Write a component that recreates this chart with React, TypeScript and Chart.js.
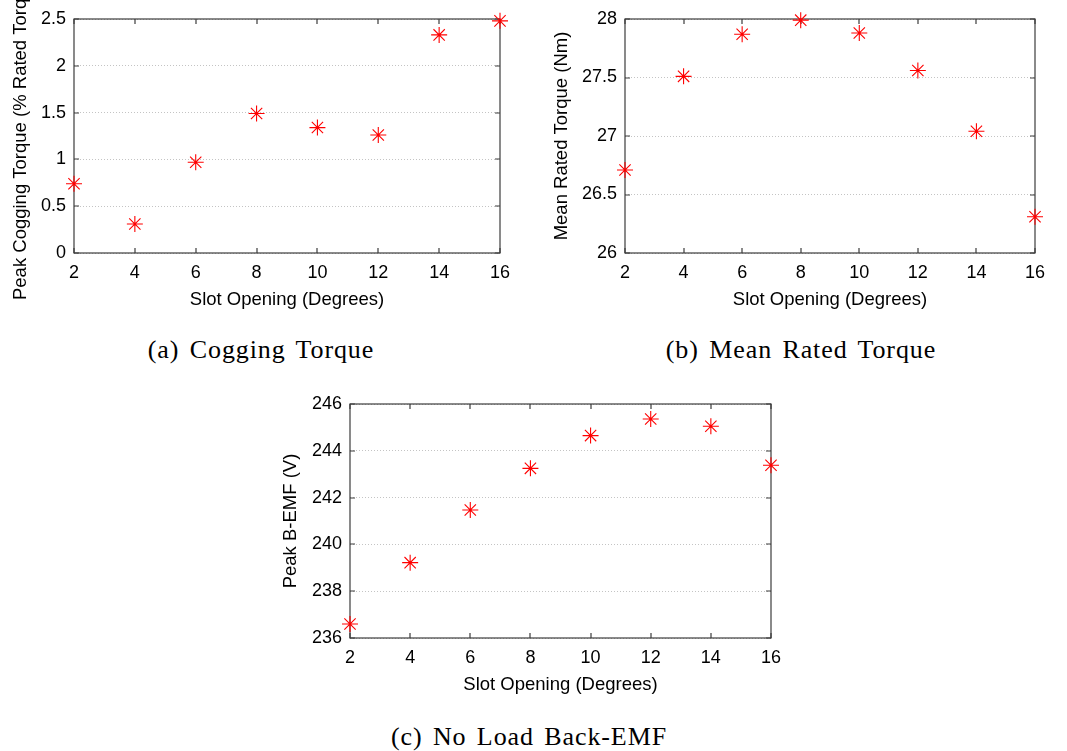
import React, { useEffect, useRef } from "react";
import { Chart, registerables } from "chart.js";

Chart.register(...registerables);

// ---- data ----
const slotOpening = [2, 4, 6, 8, 10, 12, 14, 16];
const coggingTorque = [0.74, 0.31, 0.97, 1.49, 1.34, 1.26, 2.33, 2.48];
const meanRatedTorque = [26.71, 27.51, 27.87, 27.99, 27.88, 27.56, 27.04, 26.31];
const peakBackEmf = [236.6, 239.22, 241.47, 243.25, 244.65, 245.36, 245.05, 243.38];

const xTicks = [2, 4, 6, 8, 10, 12, 14, 16];
const yTicksA = [0, 0.5, 1, 1.5, 2, 2.5];
const yTicksB = [26, 26.5, 27, 27.5, 28];
const yTicksC = [236, 238, 240, 242, 244, 246];

const xTitle = "Slot Opening (Degrees)";
const yTitleA = "Peak Cogging Torque (% Rated Torque)";
const yTitleB = "Mean Rated Torque (Nm)";
const yTitleC = "Peak B-EMF (V)";

const captionA = "(a) Cogging Torque";
const captionB = "(b) Mean Rated Torque";
const captionC = "(c) No Load Back-EMF";

const SANS = '"Liberation Sans", Arial, Helvetica, sans-serif';

const framePlugin = {
  id: "frame",
  beforeDatasetsDraw(chart: any) {
    const { ctx, chartArea } = chart;
    const { left, right, top, bottom } = chartArea;
    const xs = chart.scales.x;
    const ys = chart.scales.y;
    ctx.save();
    ctx.strokeStyle = "#3c3c3c";
    ctx.lineWidth = 1.2;
    ctx.strokeRect(left, top, right - left, bottom - top);
    const tl = 5;
    ctx.beginPath();
    xs.ticks.forEach((t: any) => {
      const px = Math.round(xs.getPixelForValue(t.value));
      ctx.moveTo(px, bottom);
      ctx.lineTo(px, bottom - tl);
      ctx.moveTo(px, top);
      ctx.lineTo(px, top + tl);
    });
    ys.ticks.forEach((t: any) => {
      const py = Math.round(ys.getPixelForValue(t.value));
      ctx.moveTo(left, py);
      ctx.lineTo(left + tl, py);
      ctx.moveTo(right, py);
      ctx.lineTo(right - tl, py);
    });
    ctx.stroke();
    ctx.restore();
  },
  afterDraw(chart: any, _args: any, opts: any) {
    const { ctx, chartArea } = chart;
    const { left, right, top, bottom } = chartArea;
    ctx.save();
    ctx.fillStyle = "#000";
    ctx.font = `18.5px ${SANS}`;
    ctx.textAlign = "center";
    ctx.textBaseline = "middle";
    ctx.fillText(opts.xTitle, (left + right) / 2, bottom + opts.xOffset);
    ctx.translate(left - opts.yOffset, (top + bottom) / 2);
    ctx.rotate(-Math.PI / 2);
    ctx.fillText(opts.yTitle, 0, 0);
    ctx.restore();
  },
};

function makeConfig(
  values: number[],
  yTicks: number[],
  yTitle: string,
  yOffset: number,
  padding: { left: number; right: number; top: number; bottom: number },
  yWidth: number,
  xHeight: number
): any {
  return {
    type: "scatter",
    data: {
      datasets: [
        {
          data: slotOpening.map((x, i) => ({ x, y: values[i] })),
          showLine: false,
          pointStyle: "star",
          pointRadius: 8,
          pointHoverRadius: 8,
          pointBorderWidth: 1.1,
          borderColor: "#ff0000",
          backgroundColor: "#ff0000",
          clip: false,
        },
      ],
    },
    plugins: [framePlugin],
    options: {
      animation: false,
      responsive: false,
      devicePixelRatio: 1,
      events: [],
      layout: { padding },
      plugins: {
        legend: { display: false },
        tooltip: { enabled: false },
        frame: { xTitle, yTitle, xOffset: 47, yOffset },
      },
      scales: {
        x: {
          type: "linear",
          min: xTicks[0],
          max: xTicks[xTicks.length - 1],
          afterBuildTicks: (s: any) => {
            s.ticks = xTicks.map((v) => ({ value: v }));
          },
          afterFit: (s: any) => {
            s.height = xHeight;
          },
          grid: { display: false, drawTicks: false },
          border: { display: false },
          ticks: {
            color: "#000",
            font: { family: SANS, size: 18 },
            padding: 9,
            maxRotation: 0,
            autoSkip: false,
            callback: (v: any) => String(v),
          },
        },
        y: {
          type: "linear",
          min: yTicks[0],
          max: yTicks[yTicks.length - 1],
          afterBuildTicks: (s: any) => {
            s.ticks = yTicks.map((v) => ({ value: v }));
          },
          afterFit: (s: any) => {
            s.width = yWidth;
          },
          grid: {
            color: "#c4c4c4",
            lineWidth: 1,
            drawTicks: false,
          },
          border: { display: false, dash: [1, 2] },
          ticks: {
            color: "#000",
            font: { family: SANS, size: 18 },
            padding: 8,
            autoSkip: false,
            callback: (v: any) => String(v),
          },
        },
      },
    },
  };
}

function ChartBox(props: { left: number; top: number; width: number; height: number; config: any }) {
  const ref = useRef<HTMLCanvasElement | null>(null);
  useEffect(() => {
    if (!ref.current) return;
    const chart = new Chart(ref.current, props.config);
    return () => chart.destroy();
  }, []);
  return (
    <canvas
      ref={ref}
      width={props.width}
      height={props.height}
      style={{
        position: "absolute",
        left: props.left,
        top: props.top,
        width: props.width,
        height: props.height,
      }}
    />
  );
}

function Caption(props: { cx: number; cy: number; text: string }) {
  return (
    <div
      style={{
        position: "absolute",
        left: props.cx - 250,
        top: props.cy - 16,
        width: 500,
        height: 32,
        lineHeight: "32px",
        textAlign: "center",
        fontFamily: '"Liberation Serif", "Times New Roman", serif',
        fontSize: 26,
        letterSpacing: 0.9,
        wordSpacing: 3,
        color: "#000",
        whiteSpace: "nowrap",
      }}
    >
      {props.text}
    </div>
  );
}

export default function App() {
  const cfgA = makeConfig(coggingTorque, yTicksA, yTitleA, 53, { left: 0, right: 25, top: 19, bottom: 0 }, 74, 67);
  const cfgB = makeConfig(meanRatedTorque, yTicksB, yTitleB, 63, { left: 0, right: 32, top: 19, bottom: 0 }, 95, 67);
  const cfgC = makeConfig(peakBackEmf, yTicksC, yTitleC, 59, { left: 0, right: 29, top: 24, bottom: 0 }, 80, 62);
  return (
    <div
      style={{
        position: "absolute",
        left: 0,
        top: 0,
        width: 1067,
        height: 751,
        background: "#fff",
        overflow: "hidden",
      }}
    >
      <ChartBox left={0} top={0} width={525} height={320} config={cfgA} />
      <ChartBox left={530} top={0} width={537} height={320} config={cfgB} />
      <ChartBox left={270} top={380} width={530} height={320} config={cfgC} />
      <Caption cx={261} cy={350} text={captionA} />
      <Caption cx={801} cy={350} text={captionB} />
      <Caption cx={529} cy={737} text={captionC} />
    </div>
  );
}
